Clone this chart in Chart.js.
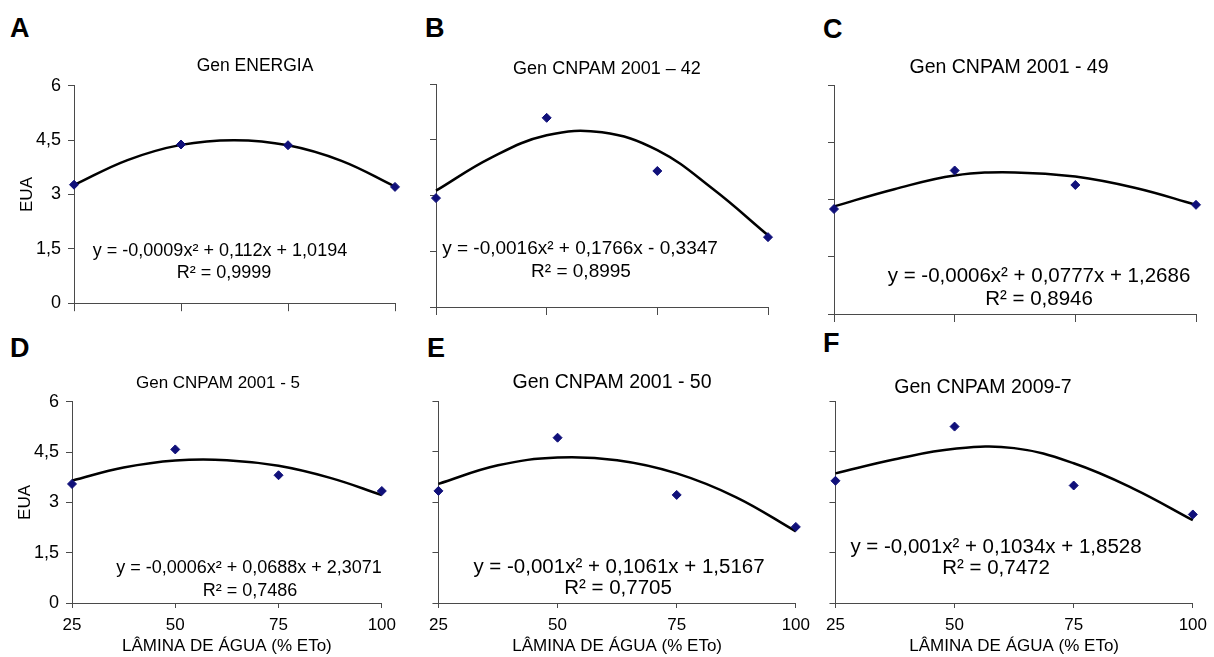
<!DOCTYPE html>
<html>
<head>
<meta charset="utf-8">
<script src="https://cdn.jsdelivr.net/npm/chart.js@4.4.1/dist/chart.umd.min.js"></script>
<style>
body { margin:0; background:#fff; width:1214px; height:657px; overflow:hidden; position:relative;
       font-family:"Liberation Sans", Arial, sans-serif; }
canvas { position:absolute; }
.lbl { position:absolute; white-space:nowrap; line-height:1; color:#000; }
.letter { font-weight:bold; font-size:27px; transform:translateY(-50%); }
.mid { transform:translate(-50%,-50%); }
</style>
</head>
<body>
<script>
// lamina de agua (% ETo) used in every panel
var laminas = [25, 50, 75, 100];
var xTicks = [25, 50, 75, 100];
var xTickLabels = ['25', '50', '75', '100'];
var yTicks = [0, 1.5, 3, 4.5, 6];
var yTickLabels = ['0', '1,5', '3', '4,5', '6'];

// observed EUA for each genotype
var euaA = [3.27, 4.38, 4.36, 3.21];
var euaB = [2.93, 5.09, 3.66, 1.88];
var euaC = [2.75, 3.76, 3.38, 2.86];
var euaD = [3.55, 4.58, 3.81, 3.34];
var euaE = [3.33, 4.91, 3.21, 2.26];
var euaF = [3.63, 5.24, 3.49, 2.63];

// trend line
var trendX = [25, 37.5, 50, 62.5, 75, 87.5, 100];
var trendA = [3.26, 3.95, 4.37, 4.50, 4.36, 3.93, 3.22];
var trendB = [3.13, 4.02, 4.62, 4.70, 4.22, 3.18, 1.93];
var trendC = [2.82, 3.27, 3.63, 3.71, 3.60, 3.30, 2.86];
var trendD = [3.65, 4.04, 4.25, 4.26, 4.09, 3.73, 3.22];
var trendE = [3.54, 4.09, 4.32, 4.24, 3.85, 3.14, 2.13];
var trendF = [3.85, 4.27, 4.58, 4.60, 4.15, 3.40, 2.46];

var letters = ['A', 'B', 'C', 'D', 'E', 'F'];
var titles = ['Gen ENERGIA', 'Gen CNPAM 2001 \u2013 42', 'Gen CNPAM 2001 - 49',
              'Gen CNPAM 2001 - 5', 'Gen CNPAM 2001 - 50', 'Gen CNPAM 2009-7'];
var equations = ['y = -0,0009x\u00b2 + 0,112x + 1,0194', 'y = -0,0016x\u00b2 + 0,1766x - 0,3347',
                 'y = -0,0006x\u00b2 + 0,0777x + 1,2686', 'y = -0,0006x\u00b2 + 0,0688x + 2,3071',
                 'y = -0,001x\u00b2 + 0,1061x + 1,5167', 'y = -0,001x\u00b2 + 0,1034x + 1,8528'];
var r2Labels = ['R\u00b2 = 0,9999', 'R\u00b2 = 0,8995', 'R\u00b2 = 0,8946',
                'R\u00b2 = 0,7486', 'R\u00b2 = 0,7705', 'R\u00b2 = 0,7472'];
var yTitle = 'EUA';
var xTitle = 'L\u00c2MINA DE \u00c1GUA (% ETo)';

var obs = [euaA, euaB, euaC, euaD, euaE, euaF];
var trends = [trendA, trendB, trendC, trendD, trendE, trendF];

// where each panel sits on the page (plot area l,t,r,b) and its text spots
var layout = [
  {box:[74, 84, 395, 311],   showY:true,  showX:false, letter:[10, 28],  title:[255, 66, 17.5], eq:[220, 250, 18],   r2:[224, 272]},
  {box:[436, 84, 768, 307],  showY:false, showX:false, letter:[425, 28], title:[607, 68, 18],   eq:[580, 247, 19],   r2:[581, 270]},
  {box:[834, 85, 1196, 314], showY:false, showX:false, letter:[823, 29], title:[1009, 67, 19.5], eq:[1039, 275, 20.5], r2:[1039, 298]},
  {box:[72, 400, 384, 603],  showY:true,  showX:true,  letter:[10, 348], title:[218, 382, 17],  eq:[249, 567, 18],   r2:[250, 590]},
  {box:[434, 401, 798, 603], showY:false, showX:true,  letter:[427, 348], title:[612, 382, 19.5], eq:[619, 566, 20.5], r2:[618, 587]},
  {box:[831, 401, 1195, 603], showY:false, showX:true, letter:[823, 343], title:[983, 387, 19.5], eq:[996, 546, 20.5], r2:[996, 567]}
];

var FONT = '"Liberation Sans", Arial, sans-serif';
var axisColor = '#4a4a4a';

function addText(txt, cls, x, y, size) {
  var d = document.createElement('div');
  d.className = 'lbl ' + cls;
  d.textContent = txt;
  d.style.left = x + 'px';
  d.style.top = y + 'px';
  if (size) d.style.fontSize = size + 'px';
  document.body.appendChild(d);
}

function toPts(xs, ys) {
  return xs.map(function(x, i) { return {x: x, y: ys[i]}; });
}

function makePanel(i) {
  var p = layout[i];
  var b = p.box;
  var wy = p.showY ? 72 : 12;
  var hx = p.showX ? 54 : 10;
  var padTop = 16, padRight = p.showX ? 19 : 12;
  var left = b[0] - wy, top = b[1] - padTop;
  var w = b[2] + padRight - left, h = b[3] + hx - top;

  var cv = document.createElement('canvas');
  cv.width = w; cv.height = h;
  cv.style.left = left + 'px'; cv.style.top = top + 'px';
  cv.style.width = w + 'px'; cv.style.height = h + 'px';
  document.body.appendChild(cv);

  new Chart(cv, {
    type: 'scatter',
    data: {
      datasets: [{
        data: toPts(laminas, obs[i]),
        showLine: false,
        pointStyle: 'rectRot',
        pointRadius: 4.5,
        backgroundColor: '#10107a',
        borderColor: '#10107a',
        borderWidth: 1,
        clip: false,
        order: 0
      }, {
        data: toPts(trendX, trends[i]),
        showLine: true,
        tension: 0.4,
        borderColor: '#000',
        borderWidth: 2.5,
        pointRadius: 0,
        fill: false,
        clip: false,
        order: 1
      }]
    },
    options: {
      responsive: false,
      animation: false,
      events: [],
      layout: {padding: {top: padTop, right: padRight, left: 0, bottom: 0}},
      plugins: {legend: {display: false}, tooltip: {enabled: false}},
      scales: {
        x: {
          type: 'linear', min: 25, max: 100,
          afterBuildTicks: function(s) { s.ticks = xTicks.map(function(v) { return {value: v}; }); },
          afterFit: function(s) { s.height = hx; },
          grid: {drawOnChartArea: false, drawTicks: true, tickLength: p.showX ? 5 : 8, color: axisColor},
          border: {display: true, color: axisColor, width: 1},
          ticks: {display: p.showX, color: '#000', padding: 7, maxRotation: 0,
                  font: {family: FONT, size: 17},
                  callback: function(v, k) { return xTickLabels[k]; }},
          title: {display: p.showX, text: xTitle, color: '#000',
                  font: {family: FONT, size: 17}, padding: {top: 0, bottom: 0}}
        },
        y: {
          min: 0, max: 6,
          afterBuildTicks: function(s) { s.ticks = yTicks.map(function(v) { return {value: v}; }); },
          afterFit: function(s) { s.width = wy; },
          grid: {drawOnChartArea: false, drawTicks: true, tickLength: 6, color: axisColor},
          border: {display: true, color: axisColor, width: 1},
          ticks: {display: p.showY, color: '#000', padding: 7,
                  font: {family: FONT, size: 18},
                  callback: function(v, k) { return yTickLabels[k]; }},
          title: {display: p.showY, text: yTitle, color: '#000',
                  font: {family: FONT, size: 17}, padding: {top: 15, bottom: 0}}
        }
      }
    }
  });

  addText(letters[i], 'letter', p.letter[0], p.letter[1]);
  addText(titles[i], 'mid', p.title[0], p.title[1], p.title[2]);
  addText(equations[i], 'mid', p.eq[0], p.eq[1], p.eq[2]);
  addText(r2Labels[i], 'mid', p.r2[0], p.r2[1], p.eq[2]);
}

for (var i = 0; i < 6; i++) makePanel(i);
</script>
</body>
</html>
